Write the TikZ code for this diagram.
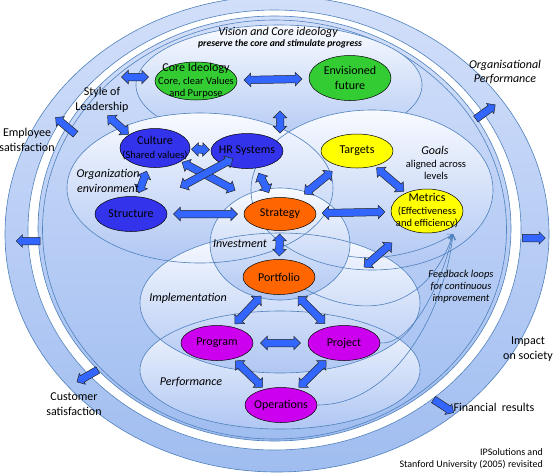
\documentclass[tikz,border=0pt]{standalone}
\usepackage{fontspec}
\setmainfont{Carlito}
\usetikzlibrary{shapes.geometric, shapes.arrows, arrows.meta}
\definecolor{ringtop}{RGB}{210,223,250}
\definecolor{ringbot}{RGB}{160,189,240}
\definecolor{zonetop}{RGB}{248,250,255}
\definecolor{zonebot}{RGB}{176,199,243}
\definecolor{zoneedge}{RGB}{79,129,189}
\definecolor{arrowblue}{RGB}{51,102,255}
\definecolor{ideagreen}{RGB}{51,204,51}
\definecolor{orgblue}{RGB}{51,51,235}
\definecolor{stratorange}{RGB}{255,102,0}
\definecolor{goalyellow}{RGB}{255,255,0}
\definecolor{execpurple}{RGB}{204,0,238}
\newcommand{\txtmain}{\fontsize{12}{14.5}\selectfont}
\newcommand{\txtsub}{\fontsize{10.5}{12}\selectfont}
\newcommand{\txtsmall}{\fontsize{10}{12}\selectfont}
\tikzset{
  ring/.style={draw=zoneedge, line width=0.6pt, top color=ringtop, bottom color=ringbot},
  gap/.style={draw=zoneedge, line width=0.6pt, fill=white},
  zone/.style={top color=zonetop, bottom color=zonebot},
  zoneline/.style={draw=zoneedge, line width=0.6pt},
  item/.style={ellipse, draw=black, line width=0.5pt, inner sep=-10pt,
    minimum width=72pt, minimum height=35pt, align=center, font=\txtmain},
  dblarrow/.style={double arrow, draw=black!85, fill=arrowblue, line width=0.5pt,
    inner xsep=0pt, inner ysep=3.5pt, minimum width=13pt, double arrow head extend=3pt},
  outarrow/.style={single arrow, draw=black!85, fill=arrowblue, line width=0.5pt,
    inner xsep=0pt, inner ysep=3.5pt, minimum width=12pt, single arrow head extend=2.5pt},
  lbl/.style={inner sep=0pt, align=center, font=\txtmain},
  ilbl/.style={lbl, font=\txtmain\itshape},
  fb/.style={zoneline, -{Straight Barb[length=5pt, width=7pt]}},
}

\begin{document}
\begin{tikzpicture}[x=1pt, y=-1pt]
  \useasboundingbox (0,0) rectangle (556,475);

  % --- outer rings ---
  \draw[ring] (277,234) ellipse [x radius=272, y radius=238];
  \draw[gap] (274.5,230) ellipse [x radius=246.5, y radius=220];
  \draw[ring] (274.5,228.5) ellipse [x radius=236.5, y radius=212.5];
  \draw[zoneline] (274.5,229.5) ellipse [x radius=232, y radius=209.5];

  % --- zones ---
  \draw[zone, zoneline] (279,85) ellipse [x radius=143, y radius=60];
  \foreach \cx/\cy/\rx/\ry in {200/188/133/75, 372/190/121/80, 280/370/140/59,
                               280/303/140/70, 280/244/70/56}
    \path[zone] (\cx,\cy) ellipse [x radius=\rx, y radius=\ry];
  \foreach \cx/\cy/\rx/\ry in {200/188/133/75, 372/190/121/80, 280/370/140/59,
                               280/303/140/70, 280/244/70/56}
    \draw[zoneline] (\cx,\cy) ellipse [x radius=\rx, y radius=\ry];

  % --- nodes ---
  \node[item, fill=ideagreen, minimum width=82pt, minimum height=38pt] (core) at (196,81)
       {Core Ideology\\[-2pt]{\txtsub Core, clear Values}\\[-2pt]{\txtsub and Purpose}};
  \node[item, fill=ideagreen, minimum width=82pt, minimum height=45pt] (future) at (350,78)
       {Envisioned\\future};
  \node[item, fill=orgblue, minimum width=70pt, minimum height=39pt] (culture) at (155,148)
       {Culture\\{\txtsub (Shared values)}};
  \node[item, fill=orgblue] (hrsys) at (247,151) {HR Systems};
  \node[item, fill=orgblue] (structure) at (131,214) {Structure};
  \node[item, fill=stratorange, minimum height=33pt] (strategy) at (280,214) {Strategy};
  \node[item, fill=goalyellow, minimum height=34pt] (targets) at (357,151) {Targets};
  \node[item, fill=goalyellow, minimum height=44pt] (metrics) at (427,211)
       {Metrics\\[-2pt]{\txtsub (Effectiveness}\\[-2pt]{\txtsub and efficiency)}};
  \node[item, fill=stratorange] (portfolio) at (279,277) {Portfolio};
  \node[item, fill=execpurple] (program) at (217,343) {Program};
  \node[item, fill=execpurple] (project) at (344,343) {Project};
  \node[item, fill=execpurple] (operations) at (281,405) {Operations};

  % --- feedback loops ---
  \coordinate (fbtip) at (453,234);
  \coordinate (invedge) at (348,256);
  \draw[fb] (invedge) .. controls (380,262) and (425,252) .. (fbtip);
  \draw[fb] (portfolio.-25) .. controls (385,330) and (435,290) .. (fbtip);
  \draw[fb] (project.east) .. controls (410,345) and (440,290) .. (fbtip);
  \draw[fb] (operations.east) .. controls (395,405) and (445,310) .. (fbtip);

  % --- block arrows between nodes ---
  \path (core) -- node[dblarrow, sloped, minimum height=58pt] (corefuture) {} (future);
  \path (culture) -- node[dblarrow, sloped, minimum height=18pt] (culturehr) {} (hrsys);
  \path (culture) -- node[dblarrow, sloped, minimum height=23pt] (culturestruct) {} (structure);
  \path (culture) -- node[dblarrow, sloped, pos=0.37, minimum height=60pt] (culturestrat) {} (strategy);
  \path (structure) -- node[dblarrow, sloped, pos=0.76, minimum height=60pt] (structhr) {} (hrsys);
  \path (hrsys) -- node[dblarrow, sloped, minimum height=22pt] (hrstrat) {} (strategy);
  \path (structure) -- node[dblarrow, sloped, minimum height=64pt] (structstrat) {} (strategy);
  \path (strategy) -- node[dblarrow, sloped, minimum height=36pt] (strattarget) {} (targets);
  \path (strategy) -- node[dblarrow, sloped, minimum height=63pt] (stratmetric) {} (metrics);
  \path (targets) -- node[dblarrow, sloped, minimum height=36pt] (targetmetric) {} (metrics);
  \path (strategy) -- node[dblarrow, sloped, minimum height=22pt] (stratport) {} (portfolio);
  \path (portfolio) -- node[dblarrow, sloped, minimum height=38pt] (portprog) {} (program);
  \path (portfolio) -- node[dblarrow, sloped, minimum height=38pt] (portproj) {} (project);
  \path (program) -- node[dblarrow, sloped, minimum height=40pt] (progproj) {} (project);
  \path (program) -- node[dblarrow, sloped, minimum height=38pt] (progops) {} (operations);
  \path (project) -- node[dblarrow, sloped, minimum height=38pt] (projops) {} (operations);

  % --- other block arrows ---
  \node[dblarrow, minimum height=27pt] (visionleft) at (135,77) {};
  \node[dblarrow, minimum height=28pt, rotate=-42] (leadculture) at (118,125) {};
  \node[dblarrow, minimum height=22pt, rotate=90] (visionlink) at (280,122) {};
  \node[dblarrow, minimum height=37pt, rotate=41] (metricslink) at (378,255) {};
  \node[outarrow, minimum height=26pt, rotate=140] (toemployee) at (67,127) {};
  \node[outarrow, minimum height=24pt, rotate=36] (toorgperf) at (484,113) {};
  \node[outarrow, minimum height=23pt] (toright) at (532,238) {};
  \node[outarrow, minimum height=24pt, rotate=180] (toleft) at (30,241) {};
  \node[outarrow, minimum height=24pt, rotate=210] (tocustomer) at (89,375) {};
  \node[outarrow, minimum height=24pt, rotate=-33] (tofinancial) at (442,405) {};

  % --- labels ---
  \node[ilbl] (visiontitle) at (278,32) {Vision and Core ideology};
  \node[lbl, font=\fontsize{9.7}{11}\selectfont\bfseries\itshape] (visionsub) at (280,44)
       {preserve the core and stimulate progress};
  \node[lbl] (leader) at (102,100) {Style of\\Leadership};
  \node[lbl] (employee) at (27,140) {Employee\\satisfaction};
  \node[ilbl] (orgperf) at (505,72) {Organisational\\Performance};
  \node[ilbl] (orgenv) at (108,181) {Organization\\environment};
  \node[ilbl] (goals) at (435,150) {Goals};
  \node[lbl, font=\txtsub] (aligned) at (436,170) {aligned across\\levels};
  \node[ilbl] (investment) at (240,244) {Investment};
  \node[ilbl] (implementation) at (188,298) {Implementation};
  \node[ilbl] (performance) at (191,382) {Performance};
  \node[ilbl, font=\txtsub\itshape] (feedback) at (461,287)
       {Feedback loops\\for continuous\\improvement};
  \node[lbl] (impact) at (528,349) {Impact\\on society};
  \node[lbl] (customer) at (74,404) {Customer\\satisfaction};
  \node[lbl] (financial) at (494,407) {Financial\ \ results};
  \node[lbl, font=\txtsmall, anchor=east, align=right] (credits) at (543,459)
       {IPSolutions and\\Stanford University (2005) revisited};
\end{tikzpicture}
\end{document}
